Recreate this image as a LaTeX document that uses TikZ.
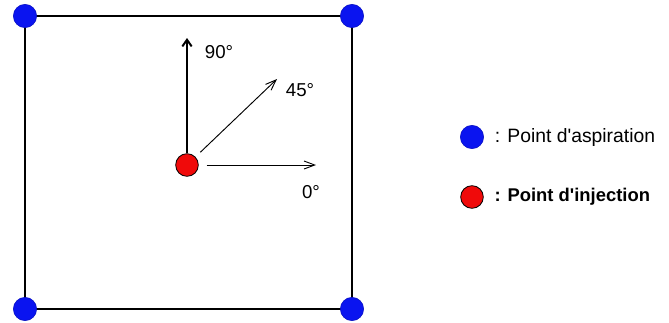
\documentclass[tikz,border=0pt]{standalone}
\usepackage{fontspec}
\setmainfont{Liberation Sans}
\usetikzlibrary{arrows.meta, positioning, backgrounds}
\definecolor{aspBlue}{HTML}{0A14F0}
\definecolor{injRed}{HTML}{F00A0A}
\tikzset{
  dotA/.style={circle, fill=aspBlue, draw=aspBlue!80!black, line width=0.4pt,
               minimum size=17.5pt, inner sep=0pt},
  dotI/.style={circle, fill=injRed, draw=black, line width=0.6pt,
               minimum size=17pt, inner sep=0pt},
  arrowT/.style={-{Straight Barb[length=5pt, width=7pt]}, line width=1.5pt},
  arrowF/.style={-{Straight Barb[length=8pt, width=6pt]}, line width=0.7pt},
  lblAng/.style={font=\fontsize{14}{16}\selectfont, inner sep=0pt},
  lblLeg/.style={font=\fontsize{14.5}{17}\selectfont, inner sep=0pt, anchor=west},
}

\begin{document}
\begin{tikzpicture}[x=0.75pt, y=-0.75pt]
    \useasboundingbox (0,0) rectangle (669,322);
    % corners of the cell
    \node[dotA] (tl) at (25,16) {};
    \node[dotA] (tr) at (352,16) {};
    \node[dotA] (br) at (352,309) {};
    \node[dotA] (bl) at (25,309) {};
    \begin{scope}[on background layer]
      \draw[line width=1.5pt] (tl.center) -- (tr.center) -- (br.center)
        -- (bl.center) -- cycle;
    \end{scope}
    % injection point and directions
    \node[dotI] (inj) at (187,165) {};
    \coordinate (a90) at (187,38);
    \coordinate (a45) at (277,79);
    \coordinate (a0) at (316,165);
    \draw[arrowT] (inj) -- (a90);
    \draw[arrowF, shorten <=5pt] (inj) -- (a45);
    \draw[arrowF, shorten <=6pt] (inj) -- (a0);
    \node[lblAng] (l90) at (219,52) {90°};
    \node[lblAng] (l45) at (300,90) {45°};
    \node[lblAng] (l0) at (311,192) {0°};
    % legend
    \node[dotA] (lgA) at (472,137) {};
    \node[dotI] (lgI) at (472,197) {};
    \node[lblLeg, right=8pt of lgA] (txA) {: Point d\textquotesingle aspiration};
    \node[lblLeg, right=8pt of lgI, font=\fontsize{13.8}{17}\selectfont\bfseries]
      (txI) {: Point d\textquotesingle injection};
  \end{tikzpicture}
\end{document}
